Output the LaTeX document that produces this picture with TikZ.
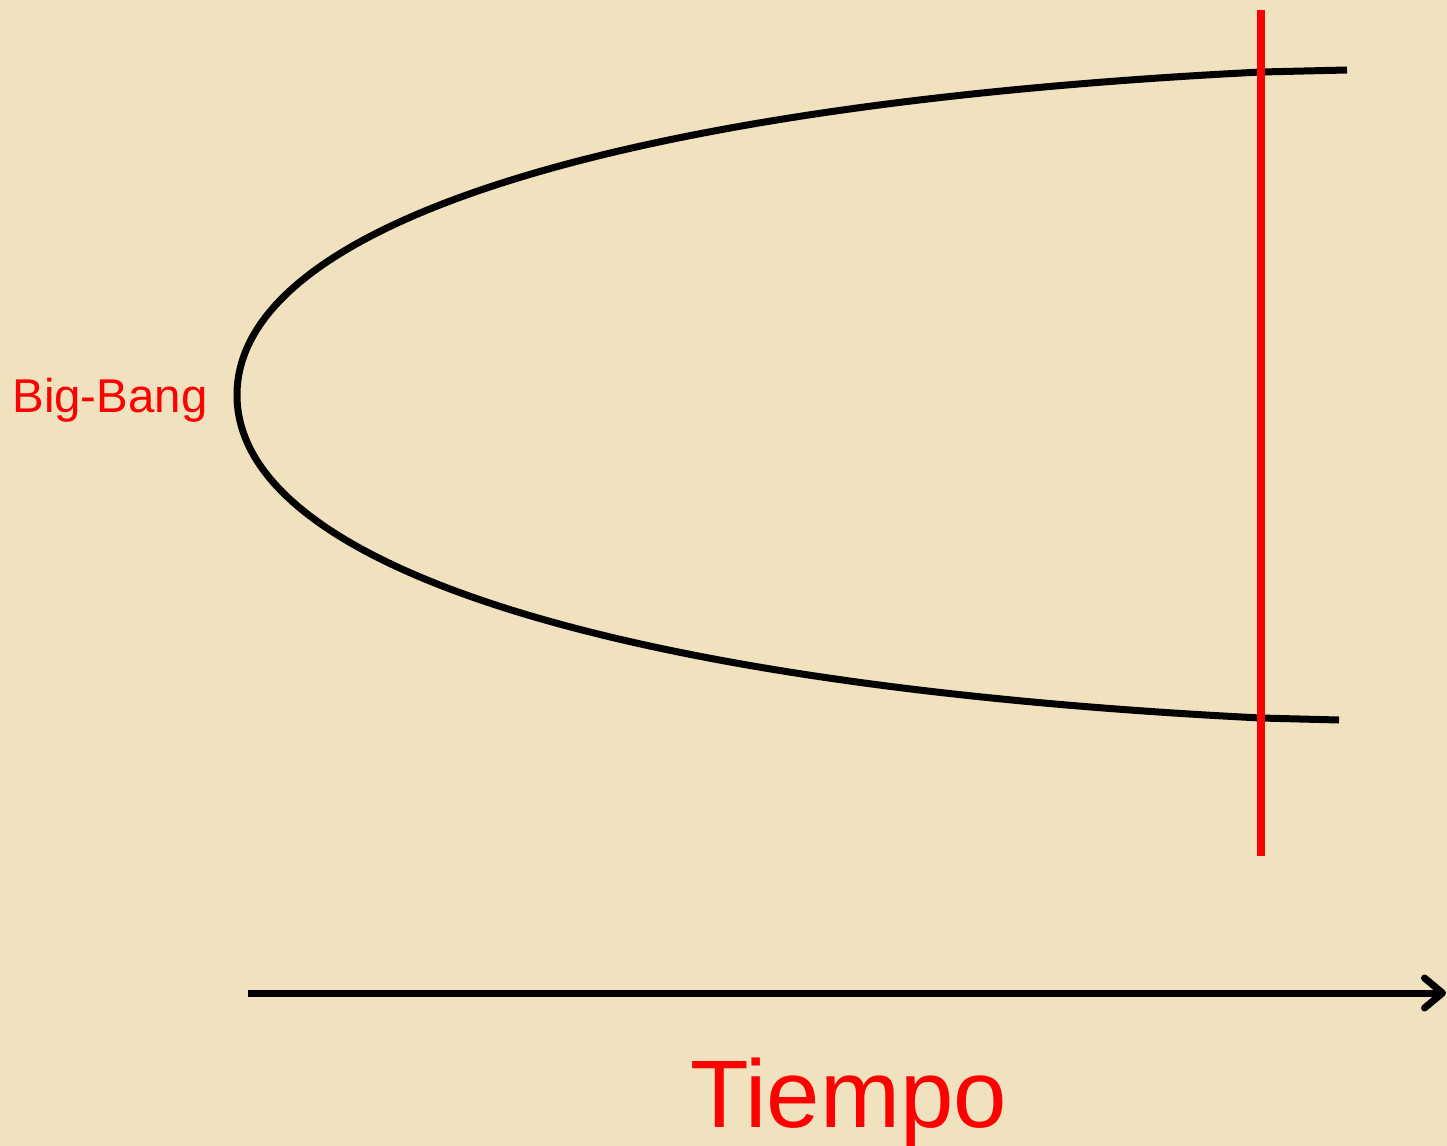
\documentclass[tikz,border=0pt]{standalone}
\usepackage{fontspec}
\setmainfont{Liberation Sans}
\usetikzlibrary{arrows.meta}
\definecolor{paper}{RGB}{240,226,190}
\definecolor{pred}{RGB}{255,0,0}
\tikzset{
  curveline/.style={line width=3.5pt, black, line cap=butt, line join=round},
  redline/.style={line width=4pt, pred},
  timeaxis/.style={line width=3.5pt, black, -{Straight Barb[length=9pt,width=15pt,line cap=round,line join=round]}},
  label/.style={text=pred, inner sep=0pt, anchor=base west},
}
\begin{document}
\begin{tikzpicture}[x=0.5pt,y=-0.5pt]
\useasboundingbox (0,0) rectangle (1447,1146);
\fill[paper] (0,0) rectangle (1447,1146);
% expansion curve
\coordinate (lowEnd) at (1339,720);
\coordinate (upEnd) at (1347,70);
\coordinate (vertex) at (237,395);
\draw[curveline] (lowEnd) -- (1261,718)
  .. controls (611,685.5) and (237,565) .. (vertex)
  .. controls (237,225) and (611,104.5) .. (1261,72)
  -- (upEnd);
% red vertical line
\coordinate (rtop) at (1261,10);
\coordinate (rbot) at (1261,856);
\draw[redline] (rtop) -- (rbot);
% time axis
\coordinate (t0) at (248,993);
\coordinate (t1) at (1446,993);
\draw[timeaxis] (t0) -- (t1);
% labels
\node[label, font=\fontsize{23.7pt}{28pt}\selectfont] (bigbang) at (12,412) {Big-Bang};
\node[label, font=\fontsize{48pt}{56pt}\selectfont] (tiempo) at (690,1127) {Tiempo};
\end{tikzpicture}
\end{document}
